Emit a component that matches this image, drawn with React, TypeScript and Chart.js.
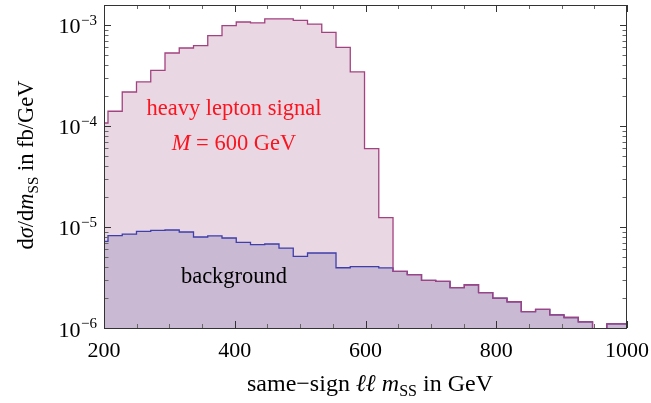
import React, { useEffect, useRef } from 'react';
import { Chart, registerables } from 'chart.js';

Chart.register(...registerables);

// ---- data ----
const binEdges = [
  200, 206.1, 227.9, 249.7, 271.5, 293.3, 315.1, 336.9, 358.7, 380.5, 402.3, 424.1, 445.9,
  467.7, 489.5, 511.3, 533.1, 554.9, 576.7, 598.5, 620.3, 642.1, 663.9, 685.7, 707.5, 729.3,
  751.1, 772.9, 794.7, 816.5, 838.3, 860.1, 881.9, 903.7, 925.5, 947.3, 969.1, 1000,
];

const signalValues = [
  1.07e-4, 1.4e-4, 2.17e-4, 2.73e-4, 3.55e-4, 5.28e-4, 5.92e-4, 6.24e-4, 7.84e-4, 9.84e-4,
  1.07e-3, 1.05e-3, 1.15e-3, 1.15e-3, 1.11e-3, 1.02e-3, 8.45e-4, 6.0e-4, 3.43e-4, 5.96e-5,
  1.24e-5, 3.64e-6, 3.37e-6, 2.96e-6, 2.89e-6, 2.51e-6, 2.68e-6, 2.24e-6, 1.98e-6, 1.82e-6,
  1.45e-6, 1.53e-6, 1.35e-6, 1.27e-6, 1.15e-6, 5e-7, 1.1e-6,
];

const backgroundValues = [
  7.2e-6, 8.2e-6, 8.5e-6, 9.05e-6, 9.25e-6, 9.34e-6, 8.92e-6, 7.96e-6, 8.15e-6, 7.78e-6,
  7.04e-6, 6.68e-6, 6.79e-6, 6.19e-6, 5.12e-6, 5.53e-6, 5.53e-6, 3.95e-6, 4.05e-6, 4.05e-6,
  3.93e-6, 3.64e-6, 3.37e-6, 2.96e-6, 2.89e-6, 2.51e-6, 2.68e-6, 2.24e-6, 1.98e-6, 1.82e-6,
  1.45e-6, 1.53e-6, 1.35e-6, 1.27e-6, 1.15e-6, 5e-7, 1.1e-6,
];

const xMin = 200;
const xMax = 1000;
const xMajorStep = 200;
const xMinorStep = 50;
const yMin = 1e-6;
const yMax = 1.577e-3;
const yDecades = [1e-6, 1e-5, 1e-4, 1e-3];
const yDecadeExponents = ['\u22126', '\u22125', '\u22124', '\u22123'];

const signalLabel = 'heavy lepton signal';
const massLabelVar = 'M';
const massLabelRest = ' = 600 GeV';
const backgroundLabel = 'background';

// ---- style ----
const SERIF = '"Liberation Serif", "Times New Roman", Times, serif';
const PINK = 'rgb(233,216,227)';
const PURPLE = 'rgb(201,185,211)';
const MAGENTA = 'rgb(163,66,128)';
const BLUE = 'rgb(62,62,172)';
const FRAME = '#333';

type Part = { t: string; italic?: boolean; size?: number; dy?: number };

function fontOf(p: Part, base: number) {
  return `${p.italic ? 'italic ' : ''}${p.size ?? base}px ${SERIF}`;
}

function drawParts(
  ctx: CanvasRenderingContext2D,
  parts: Part[],
  x: number,
  y: number,
  align: 'left' | 'center' | 'right',
  base: number
) {
  const widths: number[] = [];
  let total = 0;
  for (const p of parts) {
    ctx.font = fontOf(p, base);
    const w = ctx.measureText(p.t).width;
    widths.push(w);
    total += w;
  }
  let cx = align === 'center' ? x - total / 2 : align === 'right' ? x - total : x;
  ctx.textAlign = 'left';
  ctx.textBaseline = 'alphabetic';
  parts.forEach((p, i) => {
    ctx.font = fontOf(p, base);
    ctx.fillText(p.t, cx, y + (p.dy ?? 0));
    cx += widths[i];
  });
}

const decorPlugin = {
  id: 'decor',
  afterDatasetsDraw(chart: any) {
    const ctx: CanvasRenderingContext2D = chart.ctx;
    const { left, right, top, bottom } = chart.chartArea;
    const xs = chart.scales.x;
    const ys = chart.scales.y;
    ctx.save();

    // ticks
    ctx.lineWidth = 1;
    for (let v = xMin; v <= xMax + 1e-9; v += xMinorStep) {
      const px = Math.round(xs.getPixelForValue(v)) + 0.5;
      const major = Math.abs(v % xMajorStep) < 1e-9;
      const len = major ? 7 : 4;
      ctx.strokeStyle = major ? FRAME : '#666';
      ctx.beginPath();
      ctx.moveTo(px, bottom);
      ctx.lineTo(px, bottom - len);
      ctx.moveTo(px, top);
      ctx.lineTo(px, top + len);
      ctx.stroke();
    }
    for (const d of yDecades) {
      for (let m = 1; m <= 9; m++) {
        const val = d * m;
        if (val > yMax || val < yMin) continue;
        const py = Math.round(ys.getPixelForValue(val)) + 0.5;
        const len = m === 1 ? 7 : 4.5;
        ctx.strokeStyle = m === 1 ? FRAME : '#666';
        ctx.beginPath();
        ctx.moveTo(left, py);
        ctx.lineTo(left + len, py);
        ctx.moveTo(right, py);
        ctx.lineTo(right - len, py);
        ctx.stroke();
      }
    }

    // frame
    ctx.strokeStyle = FRAME;
    ctx.lineWidth = 1;
    ctx.strokeRect(Math.round(left) + 0.5, Math.round(top) + 0.5, Math.round(right - left) - 1, Math.round(bottom - top));

    // y tick labels (10 with superscript exponent)
    ctx.fillStyle = '#000';
    yDecades.forEach((d, i) => {
      const py = ys.getPixelForValue(d);
      const rightEdge = 97;
      ctx.font = `15px ${SERIF}`;
      const wExp = ctx.measureText(yDecadeExponents[i]).width;
      ctx.textBaseline = 'alphabetic';
      ctx.textAlign = 'left';
      ctx.fillText(yDecadeExponents[i], rightEdge - wExp, py);
      ctx.font = `22px ${SERIF}`;
      ctx.textAlign = 'right';
      ctx.fillText('10', rightEdge - wExp - 0.5, py + 8.5);
    });

    // axis titles
    drawParts(
      ctx,
      [
        { t: 'same\u2212sign ' },
        { t: '\u2113\u2113', italic: true },
        { t: ' ' },
        { t: 'm', italic: true },
        { t: 'SS', size: 16, dy: 5 },
        { t: ' in GeV' },
      ],
      370,
      391,
      'center',
      24
    );
    ctx.save();
    ctx.translate(33, 165);
    ctx.rotate(-Math.PI / 2);
    drawParts(
      ctx,
      [
        { t: 'd' },
        { t: '\u03c3', italic: true },
        { t: '/d' },
        { t: 'm', italic: true },
        { t: 'SS', size: 15, dy: 5 },
        { t: ' in fb/GeV' },
      ],
      0,
      0,
      'center',
      22.5
    );
    ctx.restore();

    // annotations
    ctx.fillStyle = 'rgb(250,20,30)';
    drawParts(ctx, [{ t: signalLabel }], 234, 115, 'center', 22.5);
    drawParts(ctx, [{ t: massLabelVar, italic: true }, { t: massLabelRest }], 234, 149.5, 'center', 22.5);
    ctx.fillStyle = '#000';
    drawParts(ctx, [{ t: backgroundLabel }], 234, 283, 'center', 22.5);

    ctx.restore();
  },
};

function toPoints(vals: number[]) {
  const pts = vals.map((v, i) => ({ x: binEdges[i], y: v }));
  pts.push({ x: binEdges[binEdges.length - 1], y: vals[vals.length - 1] });
  return pts;
}

export default function App() {
  const ref = useRef<HTMLCanvasElement>(null);
  useEffect(() => {
    const canvas = ref.current!;
    const chart = new Chart(canvas, {
      type: 'line',
      data: {
        datasets: [
          {
            label: 'signal (fill)',
            data: toPoints(signalValues),
            stepped: 'before',
            fill: 'start',
            backgroundColor: PINK,
            borderColor: 'rgba(0,0,0,0)',
            borderWidth: 0,
            pointRadius: 0,
            order: 3,
          },
          {
            label: backgroundLabel,
            data: toPoints(backgroundValues),
            stepped: 'before',
            fill: 'start',
            backgroundColor: PURPLE,
            borderColor: BLUE,
            borderWidth: 1.3,
            pointRadius: 0,
            order: 2,
          },
          {
            label: signalLabel,
            data: toPoints(signalValues),
            stepped: 'before',
            fill: false,
            borderColor: MAGENTA,
            borderWidth: 1.3,
            pointRadius: 0,
            order: 1,
          },
        ],
      } as any,
      options: {
        responsive: false,
        animation: false,
        devicePixelRatio: 1,
        layout: { padding: { top: 5, right: 24, left: 0, bottom: 0 } },
        plugins: { legend: { display: false }, tooltip: { enabled: false } },
        scales: {
          x: {
            type: 'linear',
            min: xMin,
            max: xMax,
            offset: false,
            border: { display: false },
            grid: { display: false, drawTicks: false },
            ticks: {
              stepSize: xMajorStep,
              padding: 10,
              color: '#000',
              maxRotation: 0,
              font: { family: SERIF, size: 22 },
              callback: (v: any) => String(v),
            },
            afterFit: (s: any) => {
              s.height = 75;
              s.paddingLeft = 0;
              s.paddingRight = 0;
            },
          },
          y: {
            type: 'logarithmic',
            min: yMin,
            max: yMax,
            border: { display: false },
            grid: { display: false, drawTicks: false },
            ticks: { display: false },
            afterFit: (s: any) => {
              s.width = 104;
              s.paddingTop = 0;
              s.paddingBottom = 0;
            },
          },
        },
      } as any,
      plugins: [decorPlugin],
    });
    return () => chart.destroy();
  }, []);
  return (
    <div style={{ position: 'absolute', left: 0, top: 0, width: 651, height: 403, background: '#fff' }}>
      <canvas ref={ref} width={651} height={403} style={{ display: 'block' }} />
    </div>
  );
}
